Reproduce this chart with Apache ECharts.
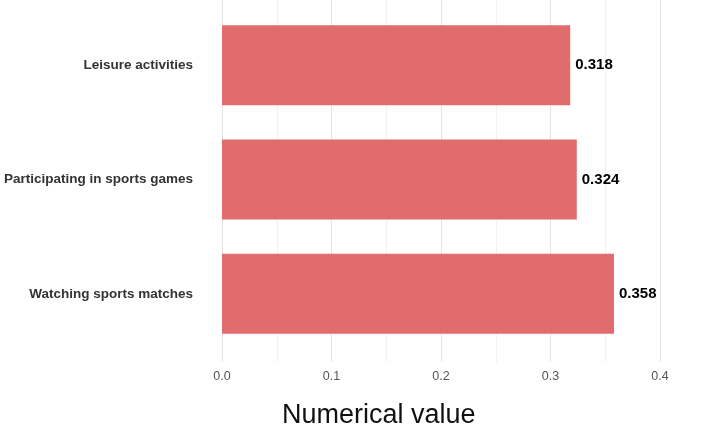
<!DOCTYPE html>
<html>
<head>
<meta charset="utf-8">
<script src="https://cdn.jsdelivr.net/npm/echarts@6/dist/echarts.min.js"></script>
<style>
  html, body { margin: 0; padding: 0; background: #fff; }
  #chart { width: 720px; height: 428px; }
</style>
</head>
<body>
<div id="chart"></div>
<script>
// categories bottom -> top
const categories = ['Watching sports matches', 'Participating in sports games', 'Leisure activities'];
const values = [0.358, 0.324, 0.318];
const xMin = 0;
const xMax = 0.4;
const xStep = 0.1;

const myChart = echarts.init(document.getElementById('chart'));
const option = {
  animation: false,
  textStyle: { fontFamily: 'Liberation Sans, Arial, sans-serif' },
  title: {
    text: 'Numerical value',
    left: 277,
    top: 397,
    textStyle: { fontSize: 27, fontWeight: 'normal', color: '#111' }
  },
  grid: [
    // background panel for grid lines + tick labels
    { left: 222, right: 60, top: 0, height: 362 },
    // bars
    { left: 222, right: 60, top: 8, height: 343 }
  ],
  xAxis: [
    {
      gridIndex: 0,
      type: 'value',
      min: xMin,
      max: xMax,
      interval: xStep,
      axisLine: { show: false },
      axisTick: { show: false },
      axisLabel: {
        color: '#555',
        fontSize: 12.5,
        margin: 8,
        formatter: v => v.toFixed(1)
      },
      splitLine: { show: true, lineStyle: { color: '#e4e4e4', width: 1 } },
      minorTick: { show: false, splitNumber: 2 },
      minorSplitLine: { show: true, lineStyle: { color: '#f1f1f1', width: 1 } }
    },
    {
      gridIndex: 1,
      type: 'value',
      min: xMin,
      max: xMax,
      interval: xStep,
      show: false,
      splitLine: { show: false }
    }
  ],
  yAxis: [
    {
      gridIndex: 0,
      type: 'category',
      data: categories,
      show: false
    },
    {
      gridIndex: 1,
      type: 'category',
      data: categories,
      axisLine: { show: false },
      axisTick: { show: false },
      axisLabel: {
        color: '#333',
        fontSize: 13.5,
        fontWeight: 'bold',
        margin: 29
      },
      splitLine: { show: false }
    }
  ],
  series: [
    {
      type: 'bar',
      xAxisIndex: 1,
      yAxisIndex: 1,
      data: values,
      barCategoryGap: '30%',
      itemStyle: { color: '#E16C6E' },
      label: {
        show: true,
        position: 'right',
        distance: 5,
        color: '#000',
        fontSize: 15,
        fontWeight: 'bold',
        formatter: p => p.value.toFixed(3)
      }
    }
  ]
};
myChart.setOption(option);
</script>
</body>
</html>
